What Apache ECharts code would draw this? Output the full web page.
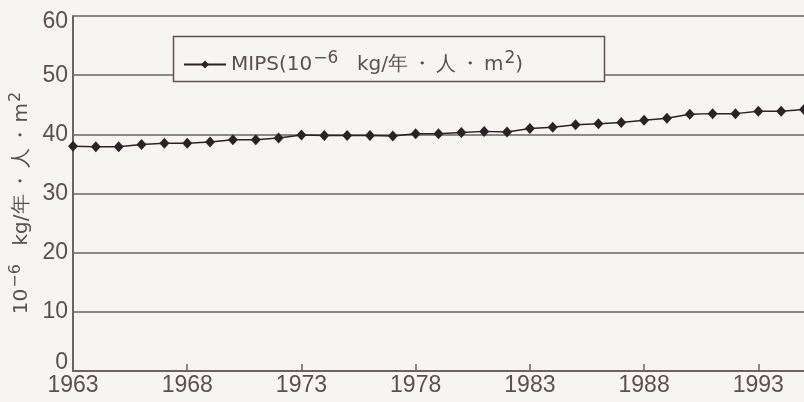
<!DOCTYPE html>
<html>
<head>
<meta charset="utf-8">
<script src="https://cdn.jsdelivr.net/npm/echarts@6/dist/echarts.min.js"></script>
<style>
  html, body { margin: 0; padding: 0; background: #f7f5f2; }
  #chart { width: 804px; height: 402px; }
</style>
</head>
<body>
<div id="chart"></div>
<script>
// Years on the horizontal axis (one point per year)
const years = [];
for (let y = 1963; y <= 1995; y++) years.push(String(y));

// MIPS per capita per area, 10^-6 kg / year / person / m2
const mipsValues = [
  38.0, 37.9, 37.9, 38.3, 38.5, 38.5, 38.7, 39.1, 39.1, 39.4,
  39.9, 39.8, 39.8, 39.8, 39.7, 40.1, 40.1, 40.3, 40.5, 40.4,
  41.0, 41.2, 41.6, 41.8, 42.0, 42.4, 42.7, 43.4, 43.5, 43.5,
  43.9, 43.9, 44.2
];

const seriesName = 'MIPS';
const yTicks = { min: 0, max: 60, step: 10 };

const ink = '#2b2225';
const gridColor = '#6e6265';
const labelColor = '#5a5052';
const font = 'Liberation Sans';
const textFont = 'DejaVu Sans';

const tickFont = { fontFamily: font, fontSize: 23, color: labelColor };

// unit string with rich-text superscripts and spaced middle dots
const unitText = '10{exp|−6}  kg/年{dot|・}人{dot|・}m{sq|2}';

const chart = echarts.init(document.getElementById('chart'), null, { renderer: 'canvas' });

chart.setOption({
  backgroundColor: '#f7f5f2',
  animation: false,
  grid: { left: 73, right: -3, top: 16, bottom: 31, containLabel: false },
  xAxis: {
    type: 'category',
    data: years,
    boundaryGap: false,
    axisLine: { lineStyle: { color: gridColor, width: 2 } },
    axisTick: { show: true, inside: true, length: 7, interval: 4, lineStyle: { color: gridColor, width: 1.5 } },
    axisLabel: Object.assign({ interval: 4, margin: 3 }, tickFont),
    splitLine: { show: false }
  },
  yAxis: {
    type: 'value',
    min: yTicks.min,
    max: yTicks.max,
    interval: yTicks.step,
    axisLine: { show: true, lineStyle: { color: gridColor, width: 2 } },
    axisTick: { show: false },
    axisLabel: Object.assign({
      margin: 5,
      // end labels sit slightly inside the axis range
      formatter: function (v) {
        if (v === yTicks.max) return '{top|' + v + '}';
        if (v === yTicks.min) return '{bot|' + v + '}';
        return String(v);
      },
      rich: {
        top: Object.assign({ padding: [11, 0, 0, 0] }, tickFont),
        bot: Object.assign({ padding: [0, 0, 16, 0] }, tickFont)
      }
    }, tickFont),
    splitLine: { show: true, lineStyle: { color: gridColor, width: 1.5 } }
  },
  legend: {
    data: [seriesName],
    left: 178,
    top: 45,
    z: 10,
    itemWidth: 42,
    itemHeight: 10,
    itemGap: 0,
    formatter: function () {
      return 'MIPS(' + unitText + ')';
    },
    textStyle: {
      color: labelColor,
      fontFamily: textFont,
      fontSize: 20,
      rich: {
        exp: { fontSize: 17, fontFamily: textFont, color: labelColor, padding: [0, 6, 12, 1] },
        sq: { fontSize: 17, fontFamily: textFont, color: labelColor, padding: [0, 0, 12, 1] },
        dot: { fontSize: 20, fontFamily: textFont, color: labelColor, padding: [0, 4, 0, 4] }
      }
    }
  },
  graphic: [
    {
      type: 'rect',
      z: 5,
      shape: { x: 173.5, y: 36.5, width: 431, height: 45 },
      style: { fill: '#f7f5f2', stroke: '#5e5255', lineWidth: 1.5 }
    },
    {
      type: 'text',
      z: 5,
      x: 22,
      y: 203,
      rotation: Math.PI / 2,
      style: {
        text: unitText,
        fill: labelColor,
        font: '20px ' + textFont,
        align: 'center',
        verticalAlign: 'middle',
        rich: {
          exp: { fontSize: 16, fontFamily: textFont, fill: labelColor, padding: [0, 6, 12, 1] },
          sq: { fontSize: 16, fontFamily: textFont, fill: labelColor, padding: [0, 0, 12, 1] },
          dot: { fontSize: 20, fontFamily: textFont, fill: labelColor, padding: [0, 3, 0, 3] }
        }
      }
    }
  ],
  series: [
    {
      name: seriesName,
      type: 'line',
      data: mipsValues,
      symbol: 'diamond',
      symbolSize: [10, 11],
      showSymbol: true,
      lineStyle: { color: ink, width: 1.5 },
      itemStyle: { color: ink, borderWidth: 0 },
      clip: true
    }
  ]
});
</script>
</body>
</html>
